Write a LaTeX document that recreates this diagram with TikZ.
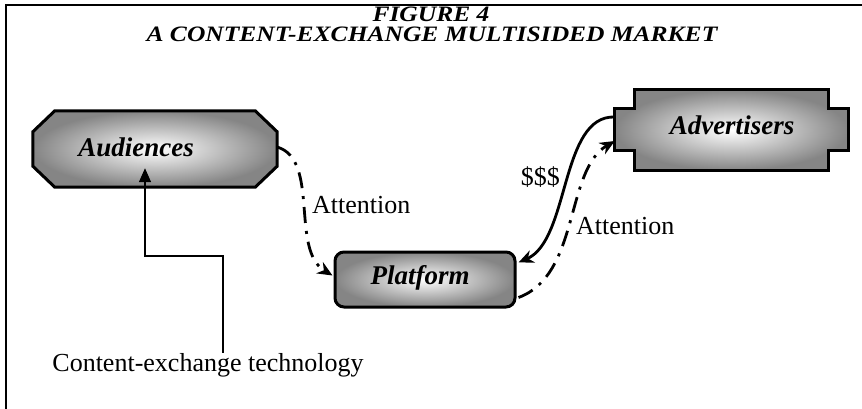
\documentclass[tikz,border=0pt]{standalone}
\usepackage{fontspec}
\setmainfont{Liberation Serif}
\newfontfamily\titlefont[FakeStretch=1.16]{Liberation Serif}
\usetikzlibrary{arrows.meta, positioning, calc}

\tikzset{
    titletxt/.style={font=\titlefont\fontsize{22}{24}\selectfont\bfseries\itshape, inner sep=0pt},
    txt/.style={font=\fontsize{26}{28}\selectfont, inner sep=0pt},
    boxtxt/.style={font=\fontsize{27}{30}\selectfont\bfseries\itshape, inner sep=0pt},
    shadebox/.style={line width=3pt, inner color=white, outer color=black!48},
    link/.style={line width=2.8pt, -{Stealth[length=15pt, width=13pt]}},
    dashdot/.style={dash pattern=on 16pt off 8pt on 3pt off 8pt},
}

\begin{document}
\begin{tikzpicture}[x=1pt, y=-1pt]
    \useasboundingbox (0,0) rectangle (862,409);

    % Rahmen
    \draw[line width=2.5pt] (6,409) -- (6,5) -- (862,5);

    % Titel
    \node[titletxt, anchor=base] (fig) at (431,22) {FIGURE 4};
    \node[titletxt, anchor=base] (ttl) at (432,42) {A CONTENT-EXCHANGE MULTISIDED MARKET};

    % Audiences (Achteck)
    \node[minimum width=244pt, minimum height=76pt, inner sep=0pt] (aud) at (155,149) {};
    \shade[shadebox, draw] ($(aud.north west)+(22,0)$) -- ($(aud.north east)+(-22,0)$)
        -- ($(aud.north east)+(0,21)$) -- ($(aud.south east)+(0,-21)$)
        -- ($(aud.south east)+(-22,0)$) -- ($(aud.south west)+(22,0)$)
        -- ($(aud.south west)+(0,-21)$) -- ($(aud.north west)+(0,21)$) -- cycle;
    \node[boxtxt, anchor=base] (audlab) at (136,157) {Audiences};

    % Platform
    \node[shadebox, draw, rounded corners=9pt, minimum width=180pt, minimum height=55pt,
          inner sep=0pt] (plat) at (425,279.5) {};
    \node[boxtxt, anchor=base] (platlab) at (420,284) {Platform};

    % Advertisers (mit Laschen)
    \node[minimum width=193pt, minimum height=80pt, inner sep=0pt] (adv) at (731.5,130) {};
    \shade[shadebox, draw] (adv.north west) -- (adv.north east)
        -- ($(adv.north east)+(0,19)$) -- ($(adv.north east)+(20,19)$)
        -- ($(adv.south east)+(20,-20)$) -- ($(adv.south east)+(0,-20)$)
        -- (adv.south east) -- (adv.south west)
        -- ($(adv.south west)+(0,-20)$) -- ($(adv.south west)+(-20,-20)$)
        -- ($(adv.north west)+(-20,19)$) -- ($(adv.north west)+(0,19)$) -- cycle;
    \node[boxtxt, anchor=base] (advlab) at (732,135) {Advertisers};

    % Pfeile
    \draw[link, dashdot] ($(aud.east)+(0,-2)$) .. controls (320,160) and (290,250) .. ($(plat.west)+(-1,-4)$);
    \draw[link] ($(adv.west)+(-20,-13)$) .. controls (560,115) and (570,240) .. ($(plat.east)+(2,-17)$);
    \draw[link, dashdot] ($(plat.east)+(2,18)$) .. controls (580,275) and (565,170) .. ($(adv.west)+(-20,11)$);

    \node[txt, anchor=base west] (att1) at (312,213) {Attention};
    \node[txt, anchor=base east] (cash) at (560,185) {\$\$\$};
    \node[txt, anchor=base west] (att2) at (576,234) {Attention};

    % Technologie
    \node[txt, anchor=base] (tech) at (208,371) {Content-exchange technology};
    \draw[line width=1.4pt, -{Triangle[length=14pt, width=12pt]}] (tech.north -| 223,0) -- (223,256)
        -- (145,256) -- ($(aud.south)+(-10,-19)$);
\end{tikzpicture}
\end{document}
